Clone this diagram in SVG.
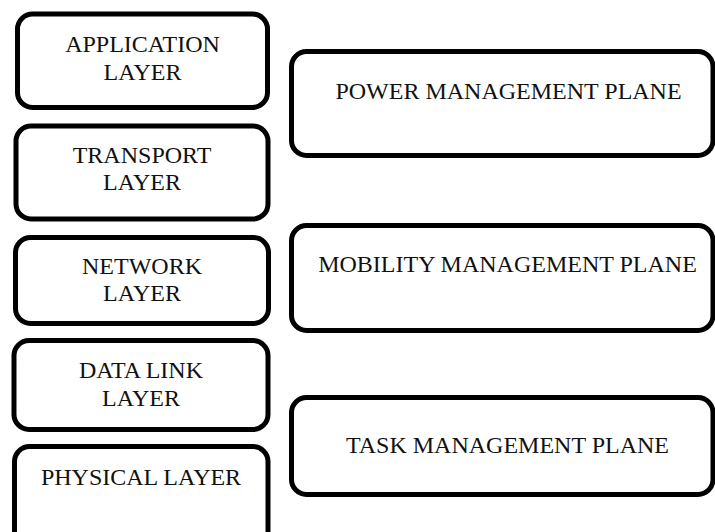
<svg xmlns="http://www.w3.org/2000/svg" width="715" height="532" viewBox="0 0 715 532">
<style>
.box{fill:#fff;stroke:#000;stroke-width:5}
.t{font-family:"Liberation Serif","Times New Roman",serif;font-size:24px;fill:#111;text-anchor:middle}
</style>
<rect width="715" height="532" fill="#fff"/>
<g id="application"><rect class="box" x="17.5" y="14" width="250" height="93.5" rx="15"/><text class="t" x="142.5" y="52">APPLICATION</text><text class="t" x="142.5" y="80">LAYER</text></g>
<g id="transport"><rect class="box" x="16" y="126" width="252" height="93" rx="15"/><text class="t" x="142" y="163">TRANSPORT</text><text class="t" x="142" y="190">LAYER</text></g>
<g id="network"><rect class="box" x="15.5" y="237.5" width="253" height="86" rx="15"/><text class="t" x="142" y="274">NETWORK</text><text class="t" x="142" y="301">LAYER</text></g>
<g id="datalink"><rect class="box" x="14" y="340.5" width="254" height="89" rx="15"/><text class="t" x="141" y="378">DATA LINK</text><text class="t" x="141" y="406">LAYER</text></g>
<g id="physical"><rect class="box" x="14.5" y="446.5" width="253.5" height="110" rx="15"/><text class="t" x="141" y="485">PHYSICAL LAYER</text></g>
<g id="power"><rect class="box" x="291.5" y="51.5" width="421.5" height="104" rx="15"/><text class="t" x="508.5" y="99">POWER MANAGEMENT PLANE</text></g>
<g id="mobility"><rect class="box" x="291.5" y="225.5" width="421.5" height="105" rx="15"/><text class="t" x="507.5" y="272">MOBILITY MANAGEMENT PLANE</text></g>
<g id="task"><rect class="box" x="291.5" y="397.5" width="421.5" height="97" rx="15"/><text class="t" x="507.5" y="453">TASK MANAGEMENT PLANE</text></g>
<g id="connectors"></g>
</svg>
